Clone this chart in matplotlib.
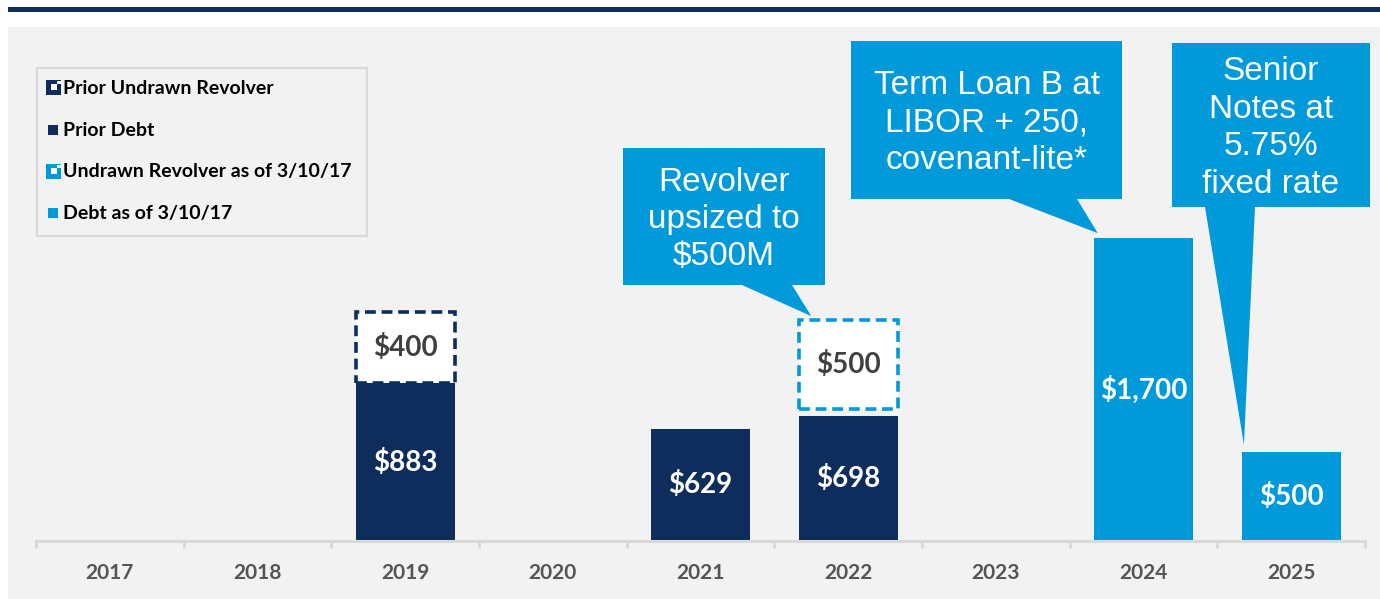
import numpy as np
import matplotlib
matplotlib.use('Agg')
import matplotlib.pyplot as plt
from matplotlib.patches import Rectangle, Polygon

# --- data (USD millions) ---
years = ['2017', '2018', '2019', '2020', '2021', '2022', '2023', '2024', '2025']
prior_debt = [0, 0, 883, 0, 629, 698, 0, 0, 0]
prior_revolver = [0, 0, 400, 0, 0, 0, 0, 0, 0]
new_revolver = [0, 0, 0, 0, 0, 500, 0, 0, 0]
new_debt = [0, 0, 0, 0, 0, 0, 0, 1700, 500]

legend_labels = ['Prior Undrawn Revolver', 'Prior Debt',
                 'Undrawn Revolver as of 3/10/17', 'Debt as of 3/10/17']
callout_texts = ['Revolver\nupsized to\n$500M',
                 'Term Loan B at\nLIBOR + 250,\ncovenant-lite*',
                 'Senior\nNotes at\n5.75%\nfixed rate']

NAVY = '#0E2D5C'
BLUE = '#009ADA'
BG = '#F2F2F2'
GRID = '#D9D9D9'
NUMFONT = 'Lato'
TXTFONT = 'Liberation Sans'

W, H = 1380, 599
fig = plt.figure(figsize=(W / 100, H / 100), dpi=100)
fig.patch.set_facecolor('white')


def fx(px):
    return px / W


def fy(py):
    return 1 - py / H


# background panel and top rule
fig.patches.append(Rectangle((fx(8), 0), 1 - fx(8), fy(27), transform=fig.transFigure,
                             facecolor=BG, edgecolor='none', zorder=-2))
fig.patches.append(Rectangle((fx(8), fy(12)), 1 - fx(8), 5 / H, transform=fig.transFigure,
                             facecolor=NAVY, edgecolor='none', zorder=-1))

ax = fig.add_axes([fx(36), (H - 541) / H, 1329 / W, 514 / H])
ax.set_facecolor('none')
x = np.arange(len(years))
ax.set_xlim(-0.5, len(years) - 0.5)
ax.set_ylim(0, 2880)

bw = 0.67
pd_ = np.array(prior_debt)
pr = np.array(prior_revolver)
nr = np.array(new_revolver)
nd = np.array(new_debt)

m = pd_ > 0
ax.bar(x[m], pd_[m], bw, color=NAVY, zorder=2)
m = nd > 0
ax.bar(x[m], nd[m], bw, color=BLUE, zorder=2)
m = pr > 0
ax.bar(x[m], pr[m], bw, bottom=pd_[m], facecolor='white', edgecolor=NAVY,
       linewidth=2.6, linestyle=(0, (3, 1.6)), zorder=3)
m = nr > 0
nr_bottom = pd_ + 40
ax.bar(x[m], nr[m], bw, bottom=nr_bottom[m], facecolor='white', edgecolor=BLUE,
       linewidth=2.6, linestyle=(0, (3, 1.6)), zorder=3)

# value labels
lab_kw = dict(ha='center', va='center', fontsize=20, fontweight='bold', family=NUMFONT, zorder=4)
for i in x:
    if pd_[i] > 0:
        ax.text(i, pd_[i] / 2, f'${pd_[i]:,}', color='white', **lab_kw)
    if nd[i] > 0:
        ax.text(i, nd[i] / 2, f'${nd[i]:,}', color='white', **lab_kw)
    if pr[i] > 0:
        ax.text(i, pd_[i] + pr[i] / 2, f'${pr[i]:,}', color='#404040', **lab_kw)
    if nr[i] > 0:
        ax.text(i, nr_bottom[i] + nr[i] / 2, f'${nr[i]:,}', color='#404040', **lab_kw)

# axis styling
for s in ['top', 'right', 'left']:
    ax.spines[s].set_visible(False)
ax.spines['bottom'].set_color(GRID)
ax.spines['bottom'].set_linewidth(2.2)
ax.set_yticks([])
ax.set_xticks(x)
ax.set_xticklabels(years, fontsize=15, fontweight='bold', color='#555555', family=NUMFONT)
ax.set_xticks(np.arange(-0.5, len(years)), minor=True)
ax.tick_params(axis='x', which='major', length=0, pad=16)
ax.tick_params(axis='x', which='minor', length=5, width=2.2, color=GRID)

# legend (drawn by hand to mimic the icon style)
fig.patches.append(Rectangle((fx(37), fy(236)), fx(367) - fx(37), fy(68) - fy(236),
                             transform=fig.transFigure, facecolor='none',
                             edgecolor=GRID, linewidth=1.6, zorder=3))
legend_y = [88, 130, 172, 213]
legend_col = [NAVY, NAVY, BLUE, BLUE]
legend_icon = ['rev', 'sq', 'rev', 'sq']
for lab, yy, col, ic in zip(legend_labels, legend_y, legend_col, legend_icon):
    if ic == 'sq':
        fig.patches.append(Rectangle((fx(48), fy(yy + 5)), 10 / W, 10 / H,
                                     transform=fig.transFigure, facecolor=col,
                                     edgecolor='none', zorder=4))
    else:
        fig.patches.append(Rectangle((fx(46), fy(yy + 7)), 15 / W, 15 / H,
                                     transform=fig.transFigure, facecolor=col,
                                     edgecolor='none', zorder=4))
        fig.patches.append(Rectangle((fx(51), fy(yy + 2)), 6 / W, 6 / H,
                                     transform=fig.transFigure, facecolor='white',
                                     edgecolor='none', zorder=5))
        fig.patches.append(Rectangle((fx(57), fy(yy - 4)), 4 / W, 3 / H,
                                     transform=fig.transFigure, facecolor='white',
                                     edgecolor='none', zorder=5))
    fig.text(fx(63), fy(yy), lab, ha='left', va='center', fontsize=14,
             fontweight='bold', family=NUMFONT, color='black', zorder=5)

# callouts: box in figure pixels, tail base x range, tip in data coords
callout_boxes = [(623, 148, 825, 285), (851, 41, 1122, 199), (1172, 43, 1370, 207)]
callout_bases = [(742, 792), (1009, 1077), (1205, 1255)]
callout_tips = [(4.75, 1260), (6.69, 1725), (7.68, 540)]

inv = fig.transFigure.inverted()
for box, base, tip, txt in zip(callout_boxes, callout_bases, callout_tips, callout_texts):
    x0, y0, x1, y1 = box
    xa, xb = base
    tip_fig = inv.transform(ax.transData.transform(tip))
    pts = [(fx(x0), fy(y0)), (fx(x1), fy(y0)), (fx(x1), fy(y1)), (fx(xb), fy(y1)),
           tuple(tip_fig), (fx(xa), fy(y1)), (fx(x0), fy(y1))]
    fig.patches.append(Polygon(pts, closed=True, transform=fig.transFigure,
                               facecolor=BLUE, edgecolor='none', zorder=6))
    fig.text(fx((x0 + x1) / 2), fy((y0 + y1) / 2 + 3), txt, ha='center', va='center',
             color='white', fontsize=24, family=TXTFONT, linespacing=1.27, zorder=7)

fig.savefig('out.png', dpi=100, facecolor='white')
